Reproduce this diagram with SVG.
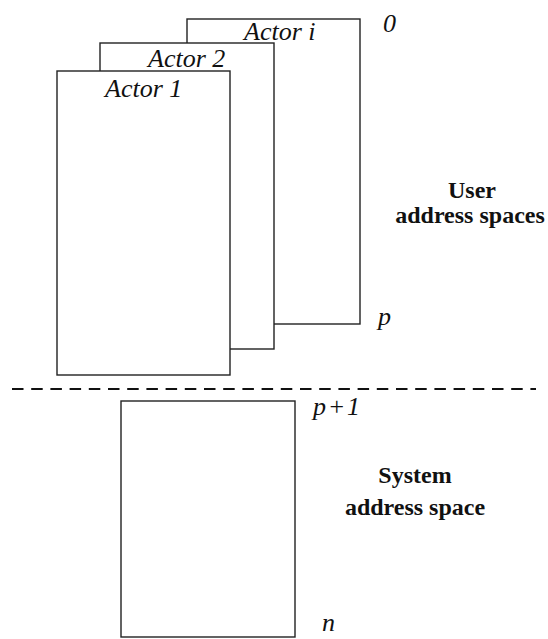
<svg xmlns="http://www.w3.org/2000/svg" width="548" height="639" viewBox="0 0 548 639">
  <style>
    .box { fill: #ffffff; stroke: #222222; stroke-width: 1.4; }
    .sep { stroke: #111111; stroke-width: 2; stroke-dasharray: 11.5 7.7; fill: none; }
    .lbl { font-family: "Liberation Serif", "Times New Roman", serif; font-style: italic; font-size: 26px; fill: #111111; }
    .title { font-family: "Liberation Serif", "Times New Roman", serif; font-weight: bold; font-size: 24px; fill: #111111; text-anchor: middle; }
  </style>
  <rect width="548" height="639" fill="#ffffff"/>

  <!-- user address spaces: stacked actor frames, back to front -->
  <g id="actor-i">
    <rect class="box" x="187" y="19" width="173" height="305"/>
    <text class="lbl" x="244" y="40">Actor i</text>
  </g>
  <g id="actor-2">
    <rect class="box" x="100" y="43" width="174" height="306"/>
    <text class="lbl" x="148" y="67">Actor 2</text>
  </g>
  <g id="actor-1">
    <rect class="box" x="57" y="71" width="173" height="304"/>
    <text class="lbl" x="105" y="97">Actor 1</text>
  </g>

  <!-- system address space -->
  <g id="system-space">
    <rect class="box" x="121" y="401" width="174" height="236"/>
  </g>

  <!-- boundary between user and system space -->
  <g id="connectors">
    <line class="sep" x1="12" y1="389" x2="536" y2="389"/>
  </g>

  <!-- address markers -->
  <g id="addresses">
    <text class="lbl" x="383" y="32">0</text>
    <text class="lbl" x="378" y="325">p</text>
    <text class="lbl" x="313" y="415" textLength="47" lengthAdjust="spacing">p+1</text>
    <text class="lbl" x="322" y="631">n</text>
  </g>

  <!-- region captions -->
  <g id="captions">
    <text class="title" x="472" y="198">User</text>
    <text class="title" x="470" y="223">address spaces</text>
    <text class="title" x="415" y="483">System</text>
    <text class="title" x="415" y="515">address space</text>
  </g>
</svg>
